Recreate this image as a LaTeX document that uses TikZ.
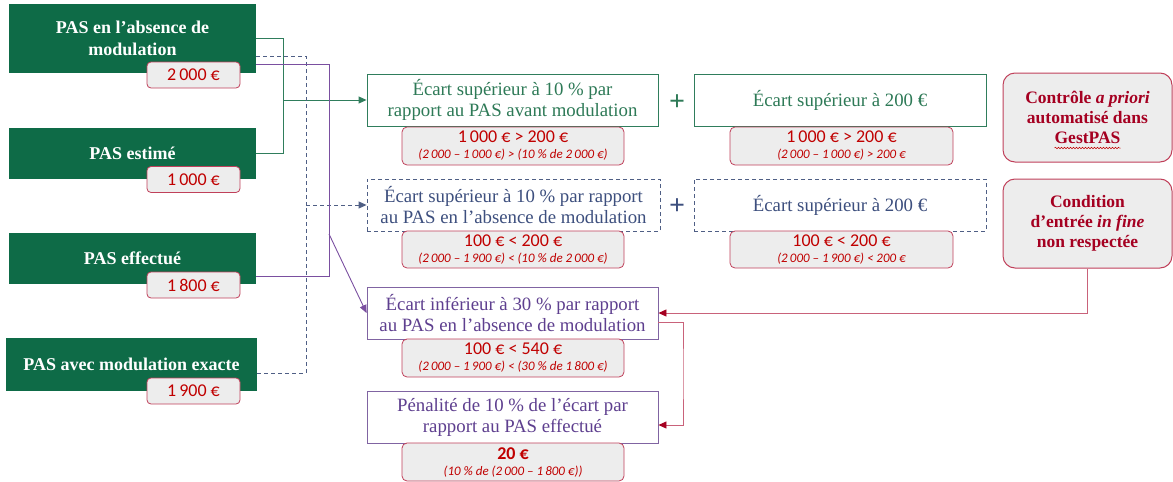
\documentclass[tikz,border=0pt]{standalone}
\usepackage{fontspec}
\setmainfont{Liberation Serif}
\newfontfamily\lblfont{Carlito}
\usetikzlibrary{arrows.meta,decorations.pathmorphing}

\definecolor{pasgreen}{HTML}{0E6B47}
\definecolor{lnkgreen}{HTML}{2F7D5C}
\definecolor{txtgreen}{HTML}{2E7A57}
\definecolor{dashblue}{HTML}{4F5F85}
\definecolor{txtblue}{HTML}{3D4F7E}
\definecolor{lnkpurple}{HTML}{7A4FA0}
\definecolor{boxpurple}{HTML}{8064A2}
\definecolor{txtpurple}{HTML}{5E3F8F}
\definecolor{valfill}{HTML}{EDEDED}
\definecolor{valborder}{HTML}{C0405A}
\definecolor{valred}{HTML}{C00000}
\definecolor{lnkred}{HTML}{C9627A}
\definecolor{tipred}{HTML}{A50021}

\tikzset{
  srcbox/.style={fill=pasgreen, text=white, align=center, inner sep=0pt,
    minimum width=247pt, font=\bfseries\fontsize{18}{22}\selectfont},
  valbox/.style={rounded corners=4pt, fill=valfill, draw=valborder, line width=0.8pt,
    text=valred, inner sep=0pt, minimum width=93pt, minimum height=26pt,
    font=\lblfont\fontsize{18}{20}\selectfont},
  condbox/.style={draw, fill=white, line width=0.9pt, align=center, inner sep=0pt,
    minimum width=291pt, minimum height=52pt, font=\fontsize{18.8}{21}\selectfont},
  resbox/.style={rounded corners=5pt, fill=valfill, draw=valborder, line width=0.8pt,
    text=valred, align=center, inner sep=0pt, minimum width=222pt, minimum height=38pt,
    font=\lblfont\fontsize{18}{16}\selectfont},
  notebox/.style={rounded corners=12pt, fill=valfill, draw=valborder, line width=1pt,
    text=tipred, align=center, inner sep=0pt, minimum width=169pt, minimum height=89pt,
    font=\bfseries\fontsize{17.5}{20}\selectfont},
  plussign/.style={font=\bfseries\fontsize{28}{28}\selectfont},
  greenlink/.style={draw=lnkgreen, line width=0.9pt},
  dashlink/.style={draw=dashblue, line width=0.9pt, dash pattern=on 4pt off 3pt},
  purplelink/.style={draw=lnkpurple, line width=0.9pt},
  redlink/.style={draw=lnkred, line width=0.9pt}
}
\newcommand{\detail}[1]{{\itshape\fontsize{13}{13}\selectfont #1}}

\begin{document}
\begin{tikzpicture}[x=1pt, y=-1pt]
\useasboundingbox (0,0) rectangle (1173,482);

% source amounts
\node[srcbox, minimum height=69pt] (g1) at (132.5,38.5) {PAS en l’absence de\\modulation};
\node[srcbox, minimum height=51pt] (g2) at (132.5,153.5) {PAS estimé};
\node[srcbox, minimum height=51pt] (g3) at (132.5,258.5) {PAS effectué};
\node[srcbox, minimum height=53pt, minimum width=251pt] (g4) at (131.5,364.5) {PAS avec modulation exacte};

\node[valbox] (v1) at (193.5,75) {2\,000 €};
\node[valbox] (v2) at (193.5,179.5) {1\,000 €};
\node[valbox] (v3) at (193.5,285) {1\,800 €};
\node[valbox] (v4) at (193.5,391) {1\,900 €};

% conditions
\node[condbox, draw=lnkgreen, text=txtgreen] (A) at (512.5,100)
  {Écart supérieur à 10 \% par\\rapport au PAS avant modulation};
\node[condbox, draw=lnkgreen, text=txtgreen, minimum width=292pt] (B) at (840,100)
  {Écart supérieur à 200 €};
\node[plussign, text=txtgreen] (p1) at (677,103) {+};

\node[condbox, draw=dashblue, dash pattern=on 4pt off 3pt, text=txtblue, minimum width=293pt] (C) at (513.5,205)
  {Écart supérieur à 10 \% par rapport\\au PAS en l’absence de modulation};
\node[condbox, draw=dashblue, dash pattern=on 4pt off 3pt, text=txtblue, minimum width=292pt] (D) at (840,205)
  {Écart supérieur à 200 €};
\node[plussign, text=txtblue] (p2) at (677,207) {+};

\node[condbox, draw=boxpurple, text=txtpurple] (E) at (512.5,313)
  {Écart inférieur à 30 \% par rapport\\au PAS en l’absence de modulation};
\node[condbox, draw=boxpurple, text=txtpurple] (F) at (512.5,417)
  {Pénalité de 10 \% de l’écart par\\rapport au PAS effectué};

% computed values
\node[resbox] (rA) at (513,146) {1\,000 € > 200 €\\\detail{(2\,000 – 1\,000 €) > (10 \% de 2\,000 €)}};
\node[resbox, minimum width=223pt] (rB) at (841.5,146) {1\,000 € > 200 €\\\detail{(2\,000 – 1\,000 €) > 200 €}};
\node[resbox, minimum height=37pt] (rC) at (513,249.5) {100 € < 200 €\\\detail{(2\,000 – 1\,900 €) < (10 \% de 2\,000 €)}};
\node[resbox, minimum width=223pt, minimum height=37pt] (rD) at (841.5,249.5) {100 € < 200 €\\\detail{(2\,000 – 1\,900 €) < 200 €}};
\node[resbox] (rE) at (513,358) {100 € < 540 €\\\detail{(2\,000 – 1\,900 €) < (30 \% de 1\,800 €)}};
\node[resbox] (rF) at (513,462) {\textbf{20 €}\\\detail{(10 \% de (2\,000 – 1\,800 €))}};

% notes
\node[notebox] (G) at (1087.5,117.5) {Contrôle \textit{a priori}\\automatisé dans\\GestPAS};
\node[notebox] (H) at (1087.5,223.5) {Condition\\d’entrée \textit{in fine}\\non respectée};
\draw[draw=valred, line width=0.5pt, decorate, decoration={snake, amplitude=0.8pt, segment length=3pt}]
  ([xshift=-33pt,yshift=-30.5pt]G.center) -- ([xshift=33pt,yshift=-30.5pt]G.center);

% junctions
\coordinate (jg) at (283,100);
\coordinate (jd) at (306,205);
\coordinate (jp) at (329,234);
\coordinate (jr) at (683,374);

% connectors
\draw[greenlink] (g1.east) -| (jg);
\draw[greenlink] (g2.east) -| (jg);
\draw[greenlink, -{Triangle[length=8pt,width=7pt]}] (jg) -- (A.west);

\draw[dashlink] ([yshift=-17.5pt]g1.east) -| (jd);
\draw[dashlink] ([yshift=-8.5pt]g4.east) -| (jd);
\draw[dashlink, -{Triangle[length=8pt,width=7pt]}] (jd) -- (C.west);

\draw[purplelink] ([yshift=-25.5pt]g1.east) -| (jp);
\draw[purplelink] ([yshift=-17.5pt]g3.east) -| (jp);
\draw[purplelink, -{Triangle[length=8pt,width=7pt]}] (jp) -- (E.west);

\draw[redlink, -{Triangle[length=8pt,width=7pt,color=tipred]}] (H.south) |- (E.east);
\draw[redlink, -{Triangle[length=8pt,width=7pt,color=tipred]}] ([yshift=-9pt]E.east) -| (jr) |- ([yshift=-8pt]F.east);
\end{tikzpicture}
\end{document}
